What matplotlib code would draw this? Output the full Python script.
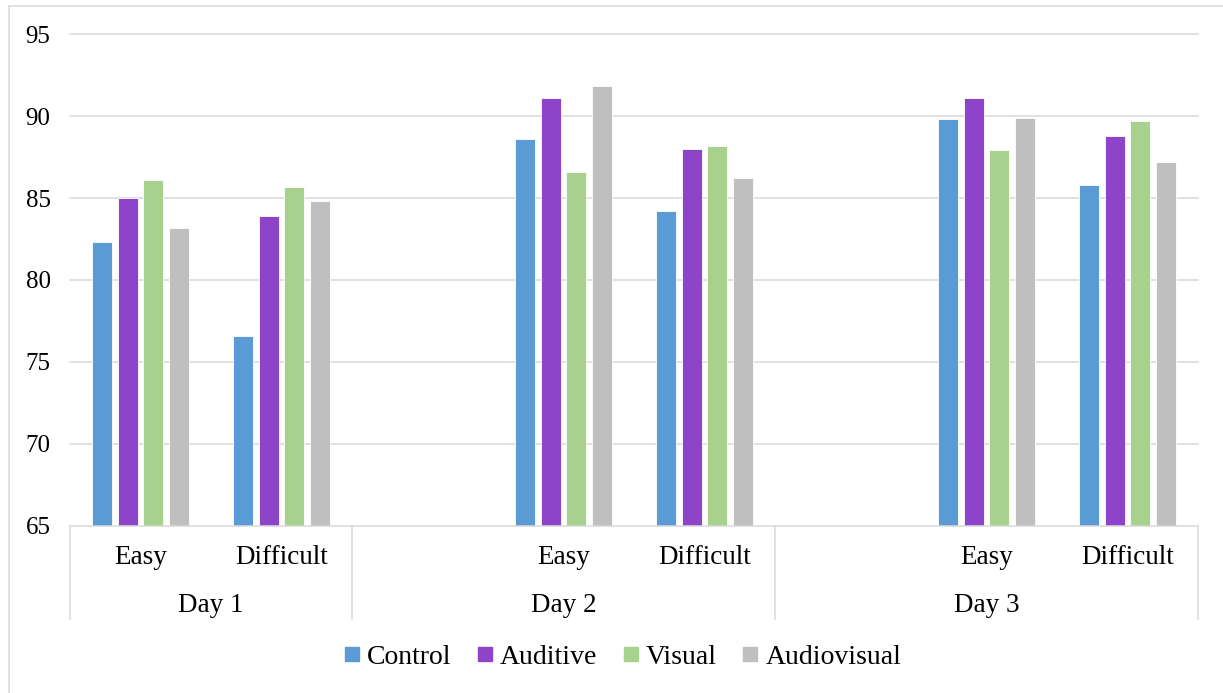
import matplotlib
matplotlib.use("Agg")
import matplotlib.pyplot as plt
from matplotlib.lines import Line2D
import numpy as np

plt.rcParams["font.family"] = ["Liberation Serif", "DejaVu Serif"]

days = ["Day 1", "Day 2", "Day 3"]
levels = ["Easy", "Difficult"]
groups = ["Control", "Auditive", "Visual", "Audiovisual"]
colors = ["#5B9BD5", "#8E44C8", "#A9D18E", "#BFBFBF"]

# scores per group, in order: D1 Easy, D1 Difficult, D2 Easy, D2 Difficult, D3 Easy, D3 Difficult
control = [82.3, 76.6, 88.6, 84.2, 89.8, 85.8]
auditive = [85.0, 83.9, 91.1, 88.0, 91.1, 88.8]
visual = [86.1, 85.7, 86.6, 88.2, 87.9, 89.7]
audiovisual = [83.2, 84.8, 91.8, 86.2, 89.9, 87.2]

yticks = [65, 70, 75, 80, 85, 90, 95]

W, H = 1223, 693
fig = plt.figure(figsize=(W / 100, H / 100), dpi=100)

# plot area in pixels
x0, x1, ytop, ybot = 70, 1198, 34, 526
ax = fig.add_axes([x0 / W, 1 - ybot / H, (x1 - x0) / W, (ybot - ytop) / H])

# Day 1 has only two slots; Day 2 and Day 3 each start with an empty slot
slots = [0, 1, 3, 4, 6, 7]
step, width = 0.1815, 0.142
series = [control, auditive, visual, audiovisual]
for i, (vals, col, name) in enumerate(zip(series, colors, groups)):
    xs = np.array(slots) + (i - 1.5) * step
    ax.bar(xs, np.array(vals) - 65, width=width, bottom=65, color=col,
           edgecolor="white", linewidth=0.6, zorder=3, label=name)

ax.set_xlim(-0.5, 7.5)
ax.set_ylim(65, 95)
for s in ax.spines.values():
    s.set_visible(False)
ax.set_xticks([])
ax.set_yticks(yticks)
ax.tick_params(axis="y", length=0, pad=14, labelsize=18)
for t in yticks[1:]:
    ax.axhline(t, color="#D9D9D9", linewidth=1.1, zorder=1, clip_on=False)

# two-level category axis
def fy(py):
    return (ybot - py) / (ybot - ytop)

tr = ax.get_xaxis_transform()
ax.plot([-0.5, 7.5], [0, 0], color="#D9D9D9", linewidth=1.1, transform=tr,
        clip_on=False, zorder=4)
for bx in [-0.5, 1.5, 4.5, 7.5]:
    ax.plot([bx, bx], [0, fy(619)], color="#D9D9D9", linewidth=1.1,
            transform=tr, clip_on=False)
for k, s in enumerate(slots):
    ax.text(s, fy(557), levels[k % 2], transform=tr, ha="center", va="center",
            fontsize=19.5)
for d, cx in zip(days, [0.5, 3.0, 6.0]):
    ax.text(cx, fy(605), d, transform=tr, ha="center", va="center", fontsize=19.5)

handles = [Line2D([], [], marker="s", linestyle="", markersize=9.5,
                  markerfacecolor=c, markeredgecolor=c) for c in colors]
fig.legend(handles, groups, loc="center", bbox_to_anchor=(623 / W, 1 - 657 / H),
           ncol=4, frameon=False, fontsize=20, handlelength=0.5,
           handletextpad=0.3, columnspacing=0.95, borderaxespad=0)

# chart area border (left and top edges)
fig.add_artist(Line2D([9 / W, 9 / W], [0, 1 - 6 / H], color="#D9D9D9", linewidth=1.1))
fig.add_artist(Line2D([9 / W, 1], [1 - 6 / H, 1 - 6 / H], color="#D9D9D9", linewidth=1.1))

fig.savefig("out.png", dpi=100)
